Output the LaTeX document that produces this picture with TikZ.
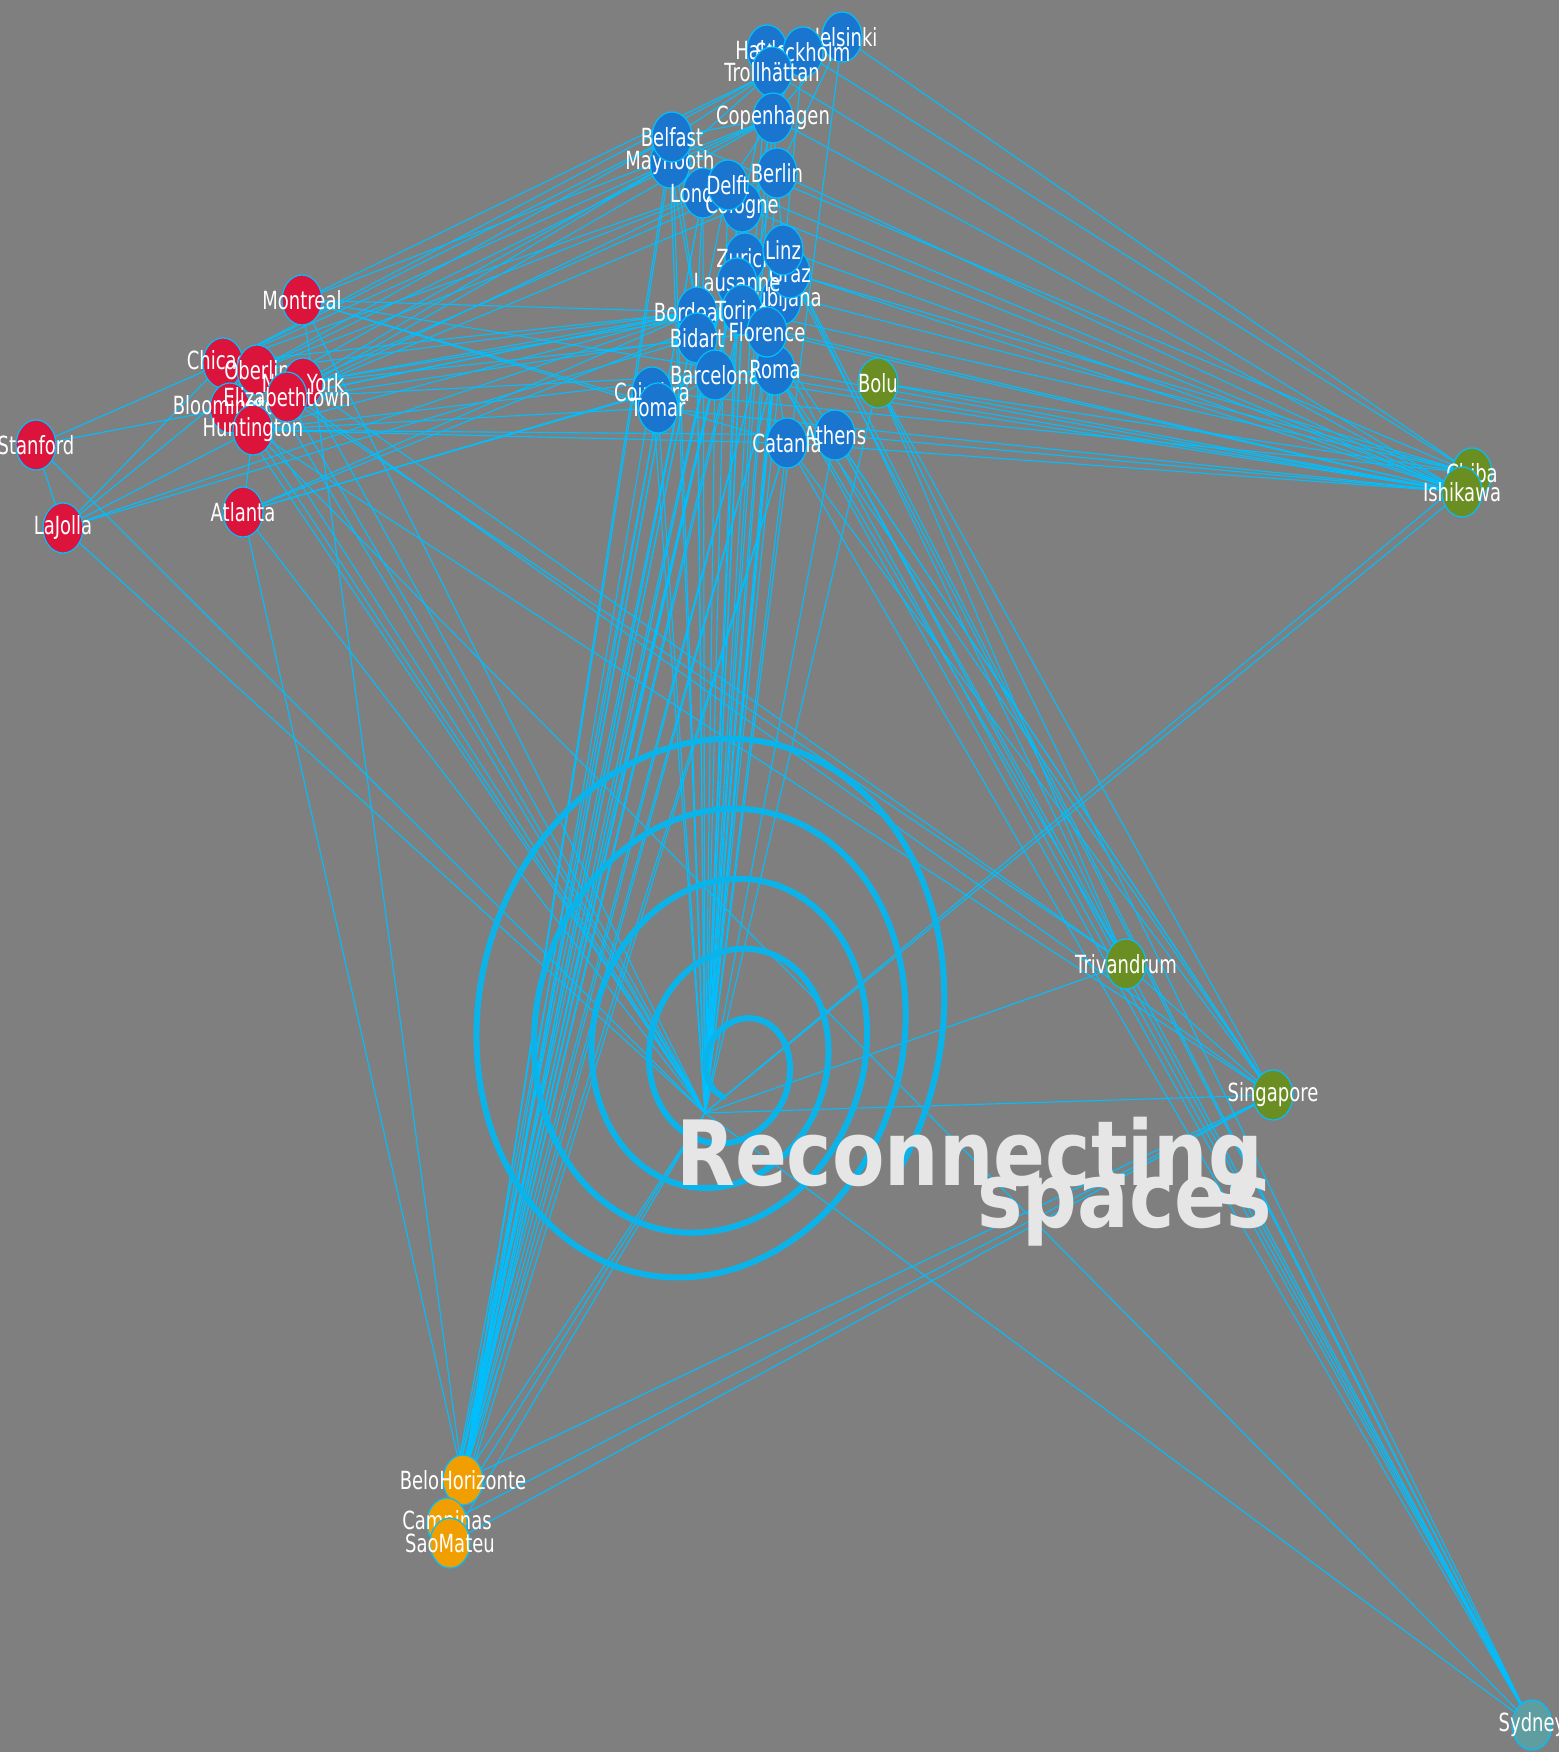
\documentclass[tikz,border=0pt]{standalone}
\usepackage{fontspec}
\usetikzlibrary{shapes.geometric}
\newfontfamily\lblfont[FakeStretch=0.72]{DejaVu Sans}
\newfontfamily\ttlfont[FakeStretch=0.85]{DejaVu Sans}
\definecolor{bgc}{RGB}{127,127,127}
\definecolor{edgec}{RGB}{0,191,255}
\definecolor{spc}{RGB}{10,180,235}
\definecolor{eu}{RGB}{26,117,207}
\definecolor{am}{RGB}{220,20,60}
\definecolor{asc}{RGB}{107,142,35}
\definecolor{brc}{RGB}{240,158,0}
\definecolor{oc}{RGB}{95,158,160}
\definecolor{ttl}{RGB}{230,230,230}
\pgfdeclarelayer{bg}
\pgfdeclarelayer{edges}
\pgfsetlayers{bg,edges,main}
\tikzset{
 citynode/.style={ellipse, minimum width=40pt, minimum height=50pt, inner sep=0pt, draw=edgec, line width=1.2pt},
 lbl/.style={text=white, font=\lblfont\fontsize{25}{25}\selectfont, inner sep=0pt},
 edge/.style={draw=edgec, line width=1.1pt},
 spiralline/.style={draw=spc, line width=6pt, line join=round, line cap=round},
 ttlstyle/.style={text=ttl, font=\ttlfont\bfseries\fontsize{90}{90}\selectfont, inner sep=0pt}
}
\newcommand\placecity[4]{\node[citynode,fill=#4,label={[lbl]center:#3}] (#1) at (#2) {};}
\begin{document}
\begin{tikzpicture}[x=1pt,y=-1pt]
\useasboundingbox (0,0) rectangle (1559,1752);
\begin{pgfonlayer}{bg}
\fill[bgc] (0,0) rectangle (1559,1752);
\end{pgfonlayer}
\coordinate (hub) at (705,1113);
% spiral
\draw[spiralline] plot[variable=\s, domain=0:1, samples=900] ({740-45*\s + (25+225*\s)*cos(1707*\s+115)*cos(14) - (28+275*\s)*sin(1707*\s+115)*sin(14)}, {1075-60*\s + (25+225*\s)*cos(1707*\s+115)*sin(14) + (28+275*\s)*sin(1707*\s+115)*cos(14)});
% Europe
\placecity{hel}{842,37}{Helsinki}{eu}
\placecity{hal}{767,50}{Halden}{eu}
\placecity{sto}{803,52}{Stockholm}{eu}
\placecity{tro}{772,72}{Trollhättan}{eu}
\placecity{cop}{773,118}{Copenhagen}{eu}
\placecity{may}{670,163}{Maynooth}{eu}
\placecity{bel}{672,137}{Belfast}{eu}
\placecity{ber}{777,173}{Berlin}{eu}
\placecity{lon}{703,193}{London}{eu}
\placecity{col}{742,207}{Cologne}{eu}
\placecity{del}{728,185}{Delft}{eu}
\placecity{pad}{781,300}{Ljubljana}{eu}
\placecity{zur}{745,258}{Zurich}{eu}
\placecity{gra}{790,273}{Graz}{eu}
\placecity{lin}{783,250}{Linz}{eu}
\placecity{lau}{737,283}{Lausanne}{eu}
\placecity{bor}{697,312}{Bordeaux}{eu}
\placecity{bid}{697,338}{Bidart}{eu}
\placecity{tor}{742,310}{Torino}{eu}
\placecity{bar}{715,375}{Barcelona}{eu}
\placecity{rom}{775,370}{Roma}{eu}
\placecity{flo}{767,332}{Florence}{eu}
\placecity{coi}{652,392}{Coimbra}{eu}
\placecity{tom}{658,408}{Tomar}{eu}
\placecity{ath}{835,435}{Athens}{eu}
\placecity{cat}{787,443}{Catania}{eu}
% Americas
\placecity{mon}{302,300}{Montreal}{am}
\placecity{chc}{223,363}{Chicago}{am}
\placecity{obe}{257,370}{Oberlin}{am}
\placecity{blo}{230,408}{Bloomington}{am}
\placecity{ny}{303,383}{New York}{am}
\placecity{hun}{253,430}{Huntington}{am}
\placecity{eli}{287,397}{Elizabethtown}{am}
\placecity{sta}{36,445}{Stanford}{am}
\placecity{laj}{63,528}{LaJolla}{am}
\placecity{atl}{243,512}{Atlanta}{am}
% Asia, Oceania
\placecity{bol}{878,383}{Bolu}{asc}
\placecity{chb}{1472,473}{Chiba}{asc}
\placecity{ish}{1462,492}{Ishikawa}{asc}
\placecity{tri}{1126,964}{Trivandrum}{asc}
\placecity{sin}{1273,1095}{Singapore}{asc}
\placecity{syd}{1532,1725}{Sydney}{oc}
% Brazil
\placecity{bh}{463,1480}{BeloHorizonte}{brc}
\placecity{cam}{447,1523}{Campinas}{brc}
\placecity{sm}{450,1543}{SaoMateu}{brc}
% edges
\begin{pgfonlayer}{edges}
\foreach \a/\b in {hel/hub,sto/hub,hal/hub,tro/hub,cop/hub,may/hub,bel/hub,ber/hub,lon/hub,col/hub,del/hub,zur/hub,lin/hub,lau/hub,gra/hub,pad/hub,tor/hub,bor/hub,bid/hub,rom/hub,flo/hub,bar/hub,coi/hub,tom/hub,ath/hub,cat/hub,bol/hub,
 tom/bh,coi/bh,bar/bh,bid/bh,bor/bh,tor/bh,lau/bh,flo/bh,rom/bh,lon/bh,may/bh,bel/bh,del/bh,cop/bh,cat/bh,col/bh,ber/bh,tro/bh,
 tom/cam,bar/cam,bor/cam,flo/cam,col/cam,bor/sm,rom/sm,lon/sm,cat/sm,
 mon/hub,chc/hub,obe/hub,ny/hub,eli/hub,hun/hub,blo/hub,atl/hub,sta/hub,laj/hub,
 eli/tri,ny/tri,hun/sin,obe/sin,hun/syd,
 mon/bor,mon/tro,mon/cop,mon/cat,mon/tom,mon/bh,chc/bel,chc/may,chc/tro,chc/bor,chc/lon,obe/cop,obe/bel,obe/bor,obe/del,
 ny/bor,ny/ber,ny/flo,ny/tor,ny/may,eli/bor,eli/del,eli/col,eli/cop,eli/bar,hun/bar,hun/cat,hun/ath,hun/bor,hun/tom,
 blo/bid,blo/bor,blo/may,sta/chc,sta/blo,laj/sta,laj/bor,laj/hun,laj/obe,laj/chc,laj/bid,atl/bor,atl/tor,atl/hun,atl/bh,atl/coi,atl/bar,
 hel/cop,hel/sto,sto/tro,tro/cop,cop/bel,cop/may,bel/may,may/lon,lon/del,del/col,col/ber,ber/cop,bel/tro,may/tro,cop/del,lin/gra,zur/lau,
 tor/flo,flo/rom,rom/cat,cat/ath,bar/bor,bor/bid,coi/tom,tom/bar,bar/rom,flo/gra,lin/ber,may/bor,lon/bor,bel/bor,hel/ber,sto/cop,
 hel/chb,sto/chb,tro/ish,cop/ish,ber/ish,bel/chb,del/ish,col/ish,lin/ish,gra/chb,flo/ish,rom/ish,tor/chb,bor/ish,bar/ish,tom/ish,coi/chb,cat/ish,ath/ish,bol/ish,bol/chb,zur/ish,lau/chb,mon/ish,
 ath/syd,cat/syd,bol/syd,rom/syd,gra/syd,lin/syd,flo/syd,ath/sin,bol/sin,cat/sin,flo/sin,rom/sin,ath/tri,rom/tri,lin/tri,bol/tri,
 ish/hub,chb/hub,tri/hub,sin/hub,syd/hub,tri/sin,sm/sin,cam/sin,bh/sin,bh/hub,cam/hub,sm/hub,tri/syd}
 \draw[edge] (\a.center) -- (\b.center);
\end{pgfonlayer}
% title
\node[ttlstyle, anchor=base west] (t1) at (676,1185) {Reconnecting};
\node[ttlstyle, anchor=base east] (t2) at (1272,1227) {spaces};
\end{tikzpicture}
\end{document}
